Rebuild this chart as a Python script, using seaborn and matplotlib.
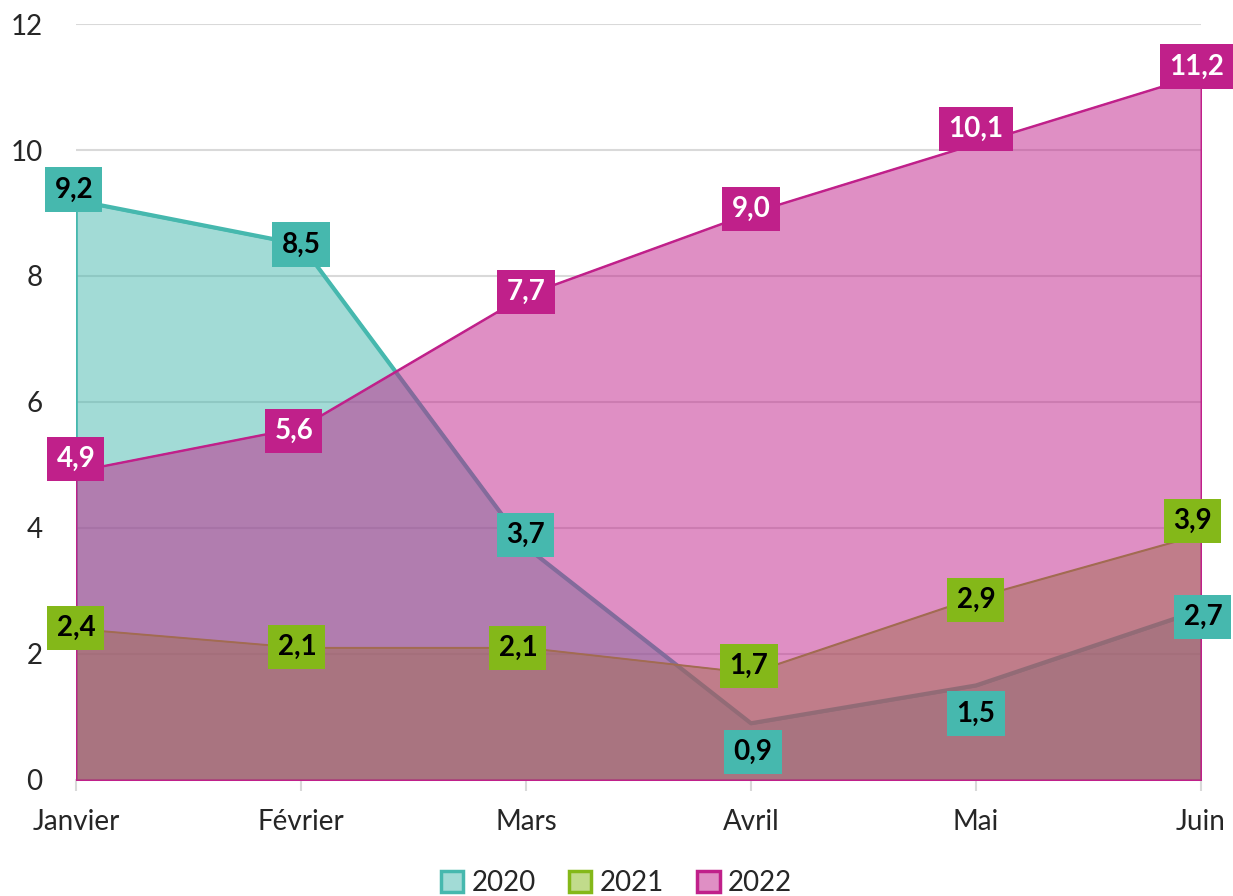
import numpy as np
import pandas as pd
import matplotlib
matplotlib.use("Agg")
import matplotlib.pyplot as plt
from matplotlib.colors import to_rgba
from matplotlib.patches import Patch
import seaborn as sns

# data
months = ["Janvier", "Février", "Mars", "Avril", "Mai", "Juin"]
v2020 = [9.2, 8.5, 3.7, 0.9, 1.5, 2.7]
v2021 = [2.4, 2.1, 2.1, 1.7, 2.9, 3.9]
v2022 = [4.9, 5.6, 7.7, 9.0, 10.1, 11.2]
years = ["2020", "2021", "2022"]

colors = {"2020": "#46B8AE", "2021": "#84B819", "2022": "#C0208A"}
widths = {"2020": 3.0, "2021": 1.1, "2022": 1.3}
edge_w = {"2020": 2.0, "2021": 1.0, "2022": 1.3}
text_col = {"2020": "black", "2021": "black", "2022": "white"}
# label offsets in pixels (dx, dy), tweaked to match the picture
offsets = {
    "2020": [(-2, 11), (0, 0), (0, 12), (2, -29), (0, -28), (2, -7)],
    "2021": [(0, 1), (-4, 1), (-8, 0), (-2, 7), (0, -3), (-8, 13)],
    "2022": [(0, 12), (-7, -4), (0, 3), (0, 4), (0, 15), (-4, 8)],
}

df = pd.DataFrame({"mois": months * 3,
                   "pos": list(range(len(months))) * 3,
                   "annee": np.repeat(years, len(months)),
                   "valeur": v2020 + v2021 + v2022})

sns.set_theme(style="white")
plt.rcParams["font.family"] = ["Lato", "DejaVu Sans"]

fig = plt.figure(figsize=(12.33, 8.96), dpi=100)
ax = fig.add_axes([0.0616, 0.1295, 0.9124, 0.8437])

for y in [2, 4, 6, 8, 10, 12]:
    ax.axhline(y, color="#D9D9D9", lw=1.5, zorder=0)

for i, yr in enumerate(years):
    d = df[df.annee == yr]
    c = colors[yr]
    ax.fill_between(d.pos, 0, d.valeur, facecolor=to_rgba(c, 0.5),
                    edgecolor=c, lw=edge_w[yr], zorder=2 + i * 2)
    sns.lineplot(data=d, x="pos", y="valeur", color=c, lw=widths[yr],
                 ax=ax, zorder=3 + i * 2, legend=False)

# data labels
for i, yr in enumerate(years):
    d = df[df.annee == yr]
    for k, (x, v) in enumerate(zip(d.pos, d.valeur)):
        dx, dy = offsets[yr][k]
        ax.annotate(f"{v:.1f}".replace(".", ","), (x, v),
                    xytext=(dx, dy), textcoords="offset pixels",
                    ha="center", va="center", fontsize=20, fontweight="bold",
                    color=text_col[yr], zorder=10 + i,
                    bbox=dict(boxstyle="square,pad=0.33", fc=colors[yr], ec="none"))

ax.set_xlim(0, 5)
ax.set_ylim(0, 12)
ax.set_yticks([0, 2, 4, 6, 8, 10, 12])
ax.set_xticks(range(len(months)))
ax.set_xticklabels(months)
ax.set_xlabel("")
ax.set_ylabel("")
ax.tick_params(axis="y", length=0, pad=24, labelsize=20)
ax.tick_params(axis="x", length=8, width=1.5, color="#D9D9D9", pad=13,
               labelsize=20, bottom=True)
for s in ["top", "right", "left"]:
    ax.spines[s].set_visible(False)
ax.spines["bottom"].set_color("#D9D9D9")
ax.spines["bottom"].set_linewidth(1.5)
ax.spines["bottom"].set_zorder(1)

handles = [Patch(facecolor=to_rgba(colors[y], 0.5), edgecolor=colors[y], lw=2.5,
                 label=y) for y in years]
fig.legend(handles=handles, loc="lower center", bbox_to_anchor=(0.5, -0.028),
           ncol=3, frameon=False, fontsize=20, handlelength=0.8,
           handleheight=0.8, handletextpad=0.3, columnspacing=1.2)

fig.savefig("out.png", dpi=100)
